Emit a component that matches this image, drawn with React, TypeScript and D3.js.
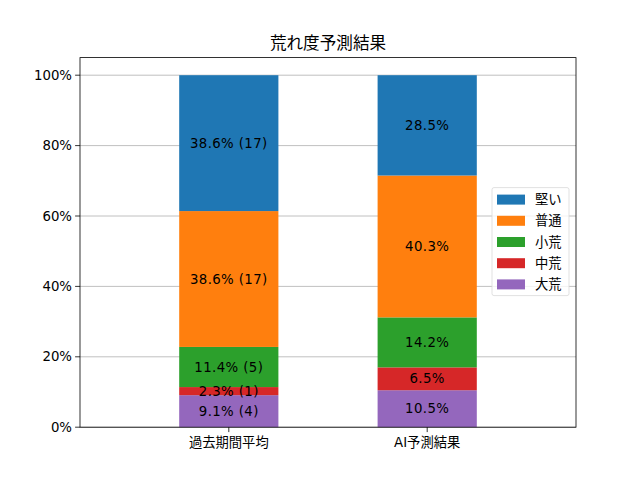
import React from 'react';
import * as d3 from 'd3';

// stack order, bottom to top
const seriesNames = ['大荒', '中荒', '小荒', '普通', '堅い'];
const colors = ['#9467bd', '#d62728', '#2ca02c', '#ff7f0e', '#1f77b4'];
const categories = ['過去期間平均', 'AI予測結果'];

// percentages per category, in stack order
const pastPct = [9.1, 2.3, 11.4, 38.6, 38.6];
const pastCount = [4, 1, 5, 17, 17];
const aiPct = [10.5, 6.5, 14.2, 40.3, 28.5];

const yTicks = [0, 20, 40, 60, 80, 100];
const title = '荒れ度予測結果';

const W = 640;
const H = 480;
const margin = { top: 57.6, right: 64, bottom: 52.8, left: 80 };
const font = '"DejaVu Sans", "Noto Sans CJK JP", sans-serif';
const fs = 13.3;

export default function App() {
  const iw = W - margin.left - margin.right;
  const ih = H - margin.top - margin.bottom;

  const x = d3.scaleLinear().domain([-0.75, 1.75]).range([0, iw]);
  const y = d3.scaleLinear().domain([0, 105]).range([ih, 0]);
  const barW = x(0.5) - x(0);

  const rows = [
    { cat: categories[0], pct: pastPct, count: pastCount as (number | null)[] },
    { cat: categories[1], pct: aiPct, count: aiPct.map(() => null) as (number | null)[] },
  ];

  const stacked = rows.map((r, i) => {
    let acc = 0;
    return r.pct.map((v, k) => {
      const y0 = acc;
      acc += v;
      return {
        i,
        k,
        y0,
        y1: acc,
        label: r.count[k] == null ? `${v.toFixed(1)}%` : `${v.toFixed(1)}% (${r.count[k]})`,
      };
    });
  });

  const legendItems = seriesNames.map((n, k) => ({ n, c: colors[k] })).reverse();
  const legX = iw - 84;
  const legY = 130;

  return (
    <svg width={W} height={H} style={{ position: 'absolute', left: 0, top: 0 }} fontFamily={font}>
      <rect width={W} height={H} fill="#fff" />
      <g transform={`translate(${margin.left},${margin.top})`}>
        {yTicks.map(t => (
          <line key={t} x1={0} x2={iw} y1={y(t)} y2={y(t)} stroke="#b0b0b0" strokeWidth={0.8} />
        ))}
        {stacked.map(bar =>
          bar.map(s => (
            <rect
              key={`${s.i}-${s.k}`}
              x={x(s.i) - barW / 2}
              y={y(s.y1)}
              width={barW}
              height={y(s.y0) - y(s.y1)}
              fill={colors[s.k]}
            />
          ))
        )}
        {stacked.map(bar =>
          bar.map(s => (
            <text
              key={`t${s.i}-${s.k}`}
              x={x(s.i)}
              y={y((s.y0 + s.y1) / 2)}
              textAnchor="middle"
              dominantBaseline="central"
              fontSize={fs}
              letterSpacing={0.4}
              fill="#000"
            >
              {s.label}
            </text>
          ))
        )}
        <rect x={0} y={0} width={iw} height={ih} fill="none" stroke="#000" strokeWidth={0.8} />
        {yTicks.map(t => (
          <g key={`y${t}`} transform={`translate(0,${y(t)})`}>
            <line x1={-4.9} x2={0} stroke="#000" strokeWidth={0.8} />
            <text x={-8} textAnchor="end" dominantBaseline="central" fontSize={fs}>
              {`${t}%`}
            </text>
          </g>
        ))}
        {categories.map((c, i) => (
          <g key={c} transform={`translate(${x(i)},${ih})`}>
            <line y1={0} y2={4.9} stroke="#000" strokeWidth={0.8} />
            <text y={20} textAnchor="middle" fontSize={fs}>
              {c}
            </text>
          </g>
        ))}
        <text x={iw / 2} y={-9} textAnchor="middle" fontSize={16.6}>
          {title}
        </text>
        <g transform={`translate(${legX},${legY})`}>
          <rect x={0} y={0} width={77} height={108} rx={2} fill="#fff" fillOpacity={0.8} stroke="#d9d9d9" strokeWidth={0.8} />
          {legendItems.map((d, j) => (
            <g key={d.n} transform={`translate(0,${12 + j * 21.2})`}>
              <rect x={5} y={-5} width={28} height={10} fill={d.c} />
              <text x={43} dominantBaseline="central" fontSize={fs}>
                {d.n}
              </text>
            </g>
          ))}
        </g>
      </g>
    </svg>
  );
}
